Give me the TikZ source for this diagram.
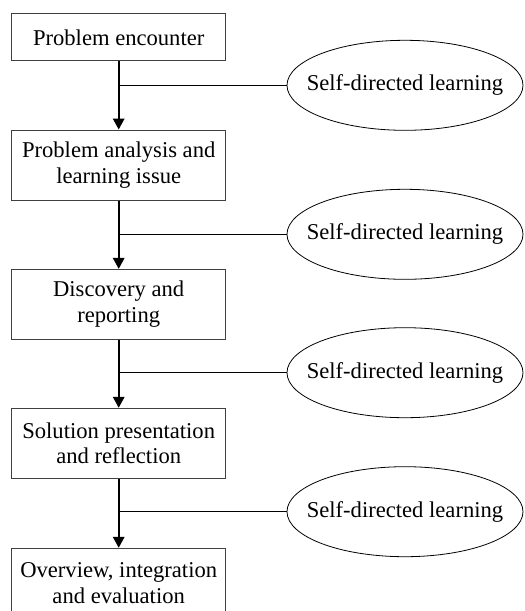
\documentclass[tikz,border=0pt]{standalone}
\usepackage{fontspec}
\setmainfont{Liberation Serif}
\usetikzlibrary{shapes.geometric,arrows.meta}
\begin{document}
\begin{tikzpicture}[x=1pt,y=-1pt,
  stage/.style={draw=black!75, line width=1pt, minimum width=214pt, align=center, inner sep=0pt, font=\fontsize{22.6}{25.7}\selectfont},
  sdl/.style={ellipse, draw=black, line width=0.8pt, minimum width=236pt, minimum height=90pt, inner sep=0pt, font=\fontsize{22.6}{25.7}\selectfont},
  flow/.style={line width=1.8pt, -{Triangle[length=11pt,width=11.5pt]}},
  link/.style={line width=1.3pt}]
\useasboundingbox (0,0) rectangle (525,611);
\clip (0,0) rectangle (525,611);
\node[stage, minimum height=46.7pt] (b1) at (118.7,37.3) {Problem encounter};
\node[stage, minimum height=70pt] (b2) at (118.7,165) {Problem analysis and\\learning issue};
\node[stage, minimum height=69.7pt] (b3) at (118.7,304.2) {Discovery and\\reporting};
\node[stage, minimum height=70pt] (b4) at (118.7,443.3) {Solution presentation\\and reflection};
\node[stage, minimum height=70pt] (b5) at (118.7,583.3) {Overview, integration\\and evaluation};
\node[sdl] (e1) at (405,85.3) {\makebox[0pt]{Self-directed learning}};
\node[sdl] (e2) at (405,234.3) {\makebox[0pt]{Self-directed learning}};
\node[sdl] (e3) at (405,372.7) {\makebox[0pt]{Self-directed learning}};
\node[sdl] (e4) at (405,511.7) {\makebox[0pt]{Self-directed learning}};
\draw[flow] (b1.south) -- (b2.north);
\draw[flow] (b2.south) -- (b3.north);
\draw[flow] (b3.south) -- (b4.north);
\draw[flow] (b4.south) -- (b5.north);
\draw[link] (e1.west) -- (b1.south |- e1.west);
\draw[link] (e2.west) -- (b2.south |- e2.west);
\draw[link] (e3.west) -- (b3.south |- e3.west);
\draw[link] (e4.west) -- (b4.south |- e4.west);
\end{tikzpicture}
\end{document}
